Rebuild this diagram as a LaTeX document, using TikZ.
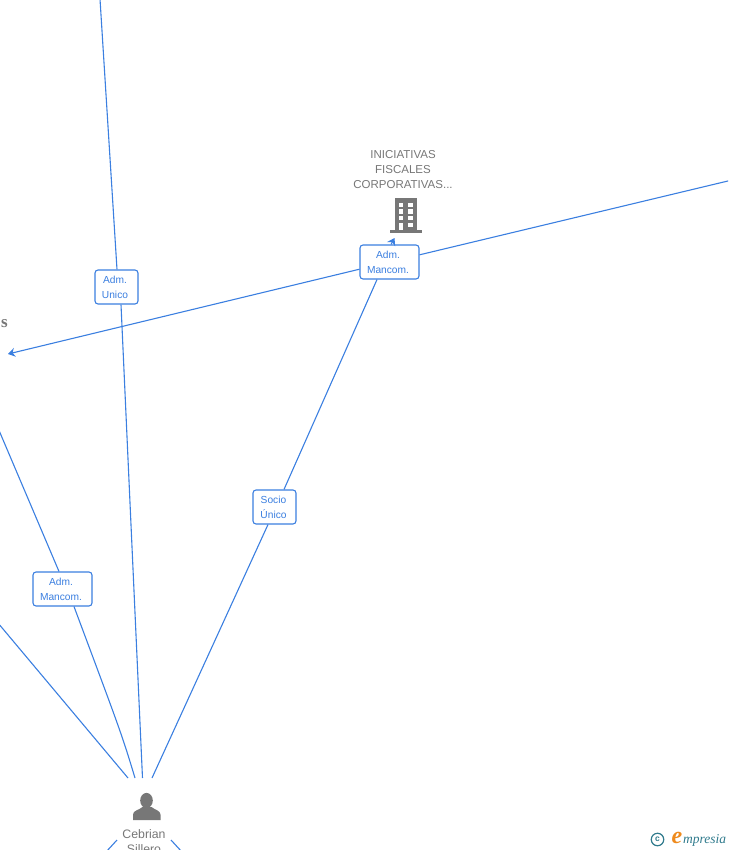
\documentclass[tikz,border=0pt]{standalone}
\usepackage{fontspec}
\setmainfont{Liberation Sans}
\newfontfamily\logofont{Liberation Serif}
\usetikzlibrary{arrows.meta}
\definecolor{linkblue}{HTML}{3B7FE0}
\definecolor{nodegrey}{HTML}{777777}
\definecolor{logoteal}{HTML}{2F7A8C}
\definecolor{logoorange}{HTML}{EE8A1D}
\tikzset{
  x=1pt,y=-1pt,
  role/.style={draw=linkblue,fill=white,rounded corners=3pt,line width=1.1pt,text=linkblue,
    font=\fontsize{10.2}{15}\selectfont,align=center,inner sep=0pt,minimum height=34pt},
  link/.style={draw=linkblue,line width=1.1pt},
  tip/.style={-{Stealth[length=7pt,width=9pt]}},
  caption/.style={text=nodegrey,align=center,inner sep=0pt}
}
\begin{document}
\begin{tikzpicture}
\useasboundingbox (0,0) rectangle (728,850);
\clip (0,0) rectangle (728,850);

\node[role,minimum width=43pt] (admUnico) at (116.5,287) {\hspace*{-3pt}Adm.\\\hspace*{-3pt}Unico};
\node[role,minimum width=59pt] (admMancomTop) at (389.5,262) {\hspace*{-3pt}Adm.\\\hspace*{-3pt}Mancom.};
\node[role,minimum width=43pt] (socioUnico) at (274.5,507) {\hspace*{-2pt}Socio\\\hspace*{-2pt}Único};
\node[role,minimum width=59pt] (admMancomLeft) at (62.5,589) {\hspace*{-3pt}Adm.\\\hspace*{-3pt}Mancom.};

\node[caption,font=\fontsize{11.5}{15}\selectfont] (iniciativas) at (403,169.5) {INICIATIVAS\\FISCALES\\CORPORATIVAS...};
\node[caption,font=\fontsize{12.3}{15}\selectfont,anchor=north] (cebrian) at (144,829.5) {Cebrian\\Sillero};
\node[caption,font=\logofont\bfseries\fontsize{17}{17}\selectfont] (cutName) at (4.5,324) {s};

% building
\fill[nodegrey] (395,198) rectangle (417,230);
\fill[nodegrey] (390,230) rectangle (422,232.5);
\foreach \y/\h in {203/4.5,209.5/4.5,216/4.5} {
  \fill[white] (398.7,\y) rectangle +(4.6,\h);
  \fill[white] (408.3,\y) rectangle +(4.6,\h);
}
\fill[white] (398.7,222.5) rectangle (403.3,230);
\fill[white] (408.3,222.5) rectangle (412.9,227);

% person
\fill[nodegrey] (146.5,800.5) ellipse (6.3 and 7.6);
\fill[nodegrey] (133,820) -- (133,814.5) .. controls (133,810.5) and (139,810) .. (142.5,807) -- (151.5,807)
  .. controls (155,810) and (160.5,810.5) .. (160.5,814.5) -- (160.5,820) -- cycle;

\coordinate (topEnd) at (100,-1);
\coordinate (rightEnd) at (730,180.5);
\coordinate (leftArrow) at (8,354);
\coordinate (leftUpper) at (-2,428);
\coordinate (leftLower) at (-2,623);
\coordinate (buildingArrow) at (394.5,238);
\coordinate (cebrianA) at (128,778);
\coordinate (cebrianB) at (135,778);
\coordinate (cebrianC) at (142.5,778);
\coordinate (cebrianD) at (152,778);
\coordinate (cebrianE) at (117,840);
\coordinate (cebrianF) at (171,840);
\coordinate (bottomA) at (106,852);
\coordinate (bottomB) at (182,852);

\draw[link] (topEnd) -- ([xshift=0.5pt]admUnico.north);
\draw[link] ([xshift=4.5pt]admUnico.south) -- (cebrianC);
\draw[link] (rightEnd) -- (admMancomTop);
\draw[link,tip] (admMancomTop) -- (leftArrow);
\draw[link,tip] ([xshift=1.5pt]admMancomTop.north) -- (buildingArrow);
\draw[link] ([xshift=-12.5pt]admMancomTop.south) -- ([xshift=9.5pt]socioUnico.north);
\draw[link] ([xshift=-6.5pt]socioUnico.south) -- (cebrianD);
\draw[link] (leftUpper) -- ([xshift=-3.5pt]admMancomLeft.north);
\draw[link] ([xshift=11.5pt]admMancomLeft.south) .. controls (122,735) .. (cebrianB);
\draw[link] (leftLower) -- (cebrianA);
\draw[link] (cebrianE) -- (bottomA);
\draw[link] (cebrianF) -- (bottomB);

% logo
\node[circle,draw=logoteal,line width=1.2pt,minimum size=12.5pt,inner sep=0pt,text=logoteal,font=\bfseries\fontsize{8.5}{8.5}\selectfont] (copyMark) at (657.5,839.5) {c};
\node[inner sep=0pt,text=logoorange,font=\logofont\bfseries\itshape\fontsize{24}{24}\selectfont] (logoE) at (677,837.5) {e};
\node[inner sep=0pt,anchor=west,text=logoteal,font=\logofont\itshape\fontsize{13.5}{13.5}\selectfont] (logoText) at (683,840) {mpresia};
\end{tikzpicture}
\end{document}
